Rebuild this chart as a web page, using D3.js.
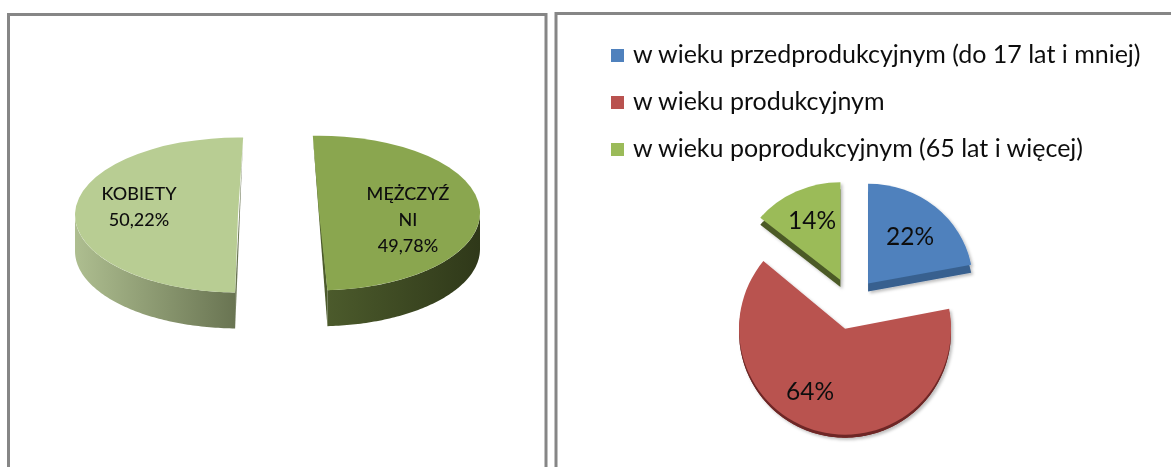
<!DOCTYPE html>
<html>
<head>
<meta charset="utf-8">
<script src="https://cdn.jsdelivr.net/npm/d3@7/dist/d3.min.js"></script>
<style>
    html, body { margin: 0; padding: 0; background: #fff; overflow: hidden; }
    text { font-family: Lato, sans-serif; fill: #111; filter: url(#soft); }
</style>
</head>
<body>
<div id="chart"></div>
<script>
// values
var genderNames = ["MĘŻCZYŹNI", "KOBIETY"]
var genderValues = [49.78, 50.22]
var genderLabels = [["MĘŻCZYŹ", "NI", "49,78%"], ["KOBIETY", "50,22%"]]

var ageNames = [
    "w wieku przedprodukcyjnym (do 17 lat i mniej)",
    "w wieku produkcyjnym",
    "w wieku poprodukcyjnym (65 lat i więcej)"
]
var ageValues = [22, 64, 14]
var ageLabels = ["22%", "64%", "14%"]

var width = 1171,
    height = 467
var frameColor = "#868686"
var toRad = Math.PI / 180

var svg = d3.select("#chart")
    .append("svg")
    .attr("width", width)
    .attr("height", height)

var defs = svg.append("defs")

// the source picture is a bit blurred, so soften text the same way
defs.append("filter").attr("id", "soft")
    .append("feGaussianBlur").attr("stdDeviation", 0.45)

var shadow = defs.append("filter").attr("id", "shadow")
    .attr("x", "-10%").attr("y", "-10%").attr("width", "120%").attr("height", "120%")
shadow.append("feDropShadow")
    .attr("dx", 2).attr("dy", 2)
    .attr("stdDeviation", 1.5)
    .attr("flood-color", "#000")
    .attr("flood-opacity", 0.25)

//------------------------------------------------------
// helpers
//------------------------------------------------------
function gradient(id, x1, x2, c1, c2) {
    var g = defs.append("linearGradient")
        .attr("id", id)
        .attr("gradientUnits", "userSpaceOnUse")
        .attr("x1", x1).attr("x2", x2)
        .attr("y1", 0).attr("y2", 0)
    g.append("stop").attr("offset", 0).attr("stop-color", c1)
    g.append("stop").attr("offset", 1).attr("stop-color", c2)
}

// one slice of a tilted pie: cut face, outer wall and top face
function drawSlice(d, o) {
    var arc = d3.arc().innerRadius(0).outerRadius(o.r)
    var g = svg.append("g")
    if (o.shadow) g.attr("filter", "url(#shadow)")
    var face = function (dy) {
        return "translate(" + o.cx + "," + (o.cy + dy) + ") scale(1," + o.sy + ") rotate(" + (o.tilt || 0) + ")"
    }
    var t = (o.tilt || 0) * toRad
    var rimAt = function (a) {
        return [o.cx + o.r * Math.sin(a), o.cy - o.r * o.sy * Math.cos(a)]
    }

    if (o.floor) {
        g.append("path")
            .attr("d", arc(d))
            .attr("transform", face(o.depth))
            .attr("fill", o.side)
    } else {
        // thin wedge along the cut, it tapers to nothing at the far corner
        var p0 = rimAt(d.startAngle + t),
            p1 = rimAt(d.endAngle + t),
            top = p0[1] < p1[1] ? p0 : p1,
            bot = p0[1] < p1[1] ? p1 : p0
        g.append("path")
            .attr("d", d3.line()([top, [bot[0], bot[1] + o.depth], bot]) + "Z")
            .attr("fill", o.side)
    }

    // the wall only shows on the lower half of the rim
    var a0 = Math.max(d.startAngle + t, 90 * toRad),
        a1 = Math.min(d.endAngle + t, 270 * toRad)
    if (a1 > a0) {
        var rim = d3.range(a0, a1, toRad).concat([a1]).map(rimAt)
        var low = rim.slice().reverse().map(function (p) {
            return [p[0], p[1] + o.depth]
        })
        g.append("path")
            .attr("d", d3.line()(rim.concat(low)) + "Z")
            .attr("fill", o.side)
    }

    g.append("path")
        .attr("d", arc(d))
        .attr("transform", face(0))
        .attr("fill", o.fill)
}

//------------------------------------------------------
// frames
//------------------------------------------------------
svg.append("path")
    .attr("d", "M8.5," + (height + 5) + "V14.5H546V" + (height + 5))
    .attr("fill", "none").attr("stroke", frameColor).attr("stroke-width", 3)
svg.append("path")
    .attr("d", "M556," + (height + 5) + "V13.5H" + (width + 5))
    .attr("fill", "none").attr("stroke", frameColor).attr("stroke-width", 3)

//------------------------------------------------------
// left pie
//------------------------------------------------------
gradient("wallMen", 325, 480, "#4c5b2c", "#2f3819")
gradient("wallWomen", 75, 236, "#aebe90", "#697452")

var genderPie = d3.pie().sort(null)
    .startAngle(-2.2 * toRad)
    .endAngle(357.8 * toRad)(genderValues)

var genderStyle = [
    { cx: 319, cy: 213, r: 161, sy: 0.48, depth: 36, tilt: 0, fill: "#8aa64f", side: "url(#wallMen)" },
    { cx: 238, cy: 215, r: 163, sy: 0.475, depth: 36, tilt: 4, fill: "#b8cd93", side: "url(#wallWomen)" }
]
genderPie.forEach(function (d, i) { drawSlice(d, genderStyle[i]) })

var genderLabelPos = [[408, 200], [139, 200]]
genderLabels.forEach(function (lines, i) {
    svg.append("text")
        .attr("text-anchor", "middle")
        .attr("font-size", 18)
        .attr("font-weight", 500)
        .selectAll("tspan")
        .data(lines)
        .enter()
        .append("tspan")
        .attr("x", genderLabelPos[i][0])
        .attr("y", function (t, k) { return genderLabelPos[i][1] + k * 26 })
        .text(function (t) { return t })
})

//------------------------------------------------------
// right pie, every slice pulled out of the centre
//------------------------------------------------------
var ageColors = ["#4f81bd", "#b9524f", "#9bbb59"]
var ageSides = ["#38608f", "#6e2826", "#4b5a26"]
var ageShape = [
    { r: 105, sy: 0.95, depth: 8 },
    { r: 106, sy: 1, depth: 3 },
    { r: 104, sy: 0.94, depth: 7 }
]
var pieX = 851.5,
    pieY = 303.5,
    explode = 26

var agePie = d3.pie().sort(null)(ageValues)
agePie.forEach(function (d, i) {
    var mid = (d.startAngle + d.endAngle) / 2
    drawSlice(d, {
        cx: pieX + explode * Math.sin(mid),
        cy: pieY - explode * Math.cos(mid),
        r: ageShape[i].r, sy: ageShape[i].sy, depth: ageShape[i].depth,
        floor: true, shadow: true,
        fill: ageColors[i], side: ageSides[i]
    })
})

var ageLabelPos = [[910, 245], [810, 400], [812, 229]]
svg.selectAll(".ageLabel")
    .data(ageLabels)
    .enter()
    .append("text")
    .attr("class", "ageLabel")
    .attr("text-anchor", "middle")
    .attr("font-size", 24.5)
    .attr("x", function (d, i) { return ageLabelPos[i][0] })
    .attr("y", function (d, i) { return ageLabelPos[i][1] })
    .text(function (d) { return d })

//------------------------------------------------------
// legend
//------------------------------------------------------
var legendY = d3.scalePoint().domain(ageNames).range([55, 149])
var legend = svg.selectAll(".legend")
    .data(ageNames)
    .enter()
    .append("g")
    .attr("class", "legend")
    .attr("transform", function (d) { return "translate(611," + legendY(d) + ")" })

legend.append("rect")
    .attr("y", -6)
    .attr("width", 13).attr("height", 13)
    .attr("fill", function (d, i) { return ageColors[i] })

legend.append("text")
    .attr("x", 22).attr("y", 8)
    .attr("font-size", 25)
    .text(function (d) { return d })
</script>
</body>
</html>
